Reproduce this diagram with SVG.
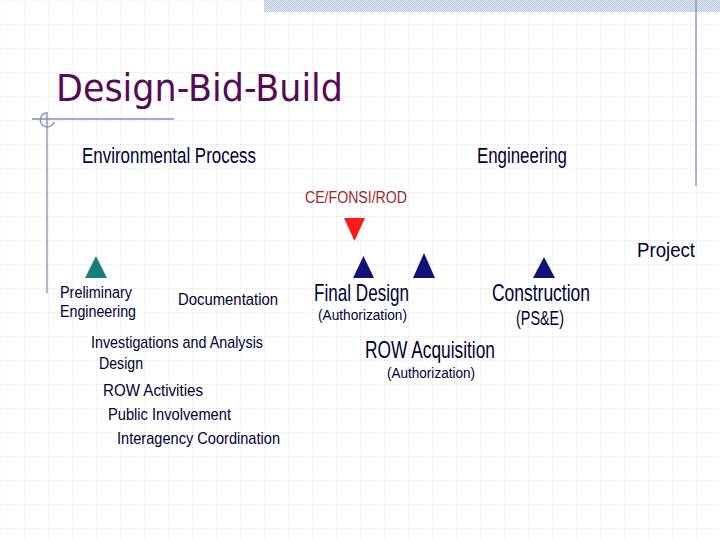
<svg xmlns="http://www.w3.org/2000/svg" width="720" height="540" viewBox="0 0 720 540">
<defs>
<pattern id="grid" x="0" y="0" width="24" height="24" patternUnits="userSpaceOnUse">
<line x1="0" y1="0" x2="24" y2="0" stroke="#bcc1cf" stroke-width="1" stroke-dasharray="1,2"/>
<line x1="0" y1="0" x2="0" y2="24" stroke="#bcc1cf" stroke-width="1" stroke-dasharray="1,2"/>
</pattern>
<pattern id="check" x="0" y="0" width="2" height="2" patternUnits="userSpaceOnUse">
<rect width="2" height="2" fill="#e4eaf4"/>
<rect width="1" height="1" fill="#b8c6e0"/>
<rect x="1" y="1" width="1" height="1" fill="#b8c6e0"/>
</pattern>
</defs>
<style>
.t{font-family:"Liberation Sans",Arial,sans-serif;fill:#000033;}
.deco{stroke:#7f8fb8;stroke-width:1.3;fill:none;}
.navy{fill:#111177;}
</style>
<rect width="720" height="540" fill="#ffffff"/>
<rect x="0.5" y="0.5" width="720" height="540" fill="url(#grid)"/>
<rect x="264" y="0" width="456" height="12" fill="url(#check)"/>
<line class="deco" x1="696" y1="0" x2="696" y2="186"/>
<line class="deco" x1="32" y1="119" x2="174" y2="119"/>
<line class="deco" x1="47" y1="112" x2="47" y2="293"/>
<path class="deco" d="M47,113 A7,7 0 1 0 54,122"/>
<text x="56" y="101" font-family="Tahoma,'DejaVu Sans',sans-serif" font-size="37" fill="#560a56" textLength="287" lengthAdjust="spacingAndGlyphs">Design-Bid-Build</text>

<g id="environmental-process"><text class="t" x="82" y="163" font-size="22" textLength="174" lengthAdjust="spacingAndGlyphs">Environmental Process</text></g>
<g id="engineering"><text class="t" x="477" y="163" font-size="22" textLength="90" lengthAdjust="spacingAndGlyphs">Engineering</text></g>
<g id="cefonsirod">
<text x="305" y="203" font-family="'Liberation Sans',Arial,sans-serif" font-size="16" fill="#a02828" textLength="102" lengthAdjust="spacingAndGlyphs">CE/FONSI/ROD</text>
<polygon points="344,218 365,218 354.5,241" fill="#ff1a1a"/>
</g>
<g id="project"><text class="t" x="637" y="257" font-size="20" textLength="58" lengthAdjust="spacingAndGlyphs">Project</text></g>

<g id="preliminary-engineering">
<polygon points="96,256 107,278 85,278" fill="#1a7f78"/>
<text class="t" x="60" y="298" font-size="16" textLength="72" lengthAdjust="spacingAndGlyphs">Preliminary</text>
<text class="t" x="60" y="317" font-size="16" textLength="76" lengthAdjust="spacingAndGlyphs">Engineering</text>
</g>
<g id="documentation"><text class="t" x="178" y="305" font-size="16" textLength="100" lengthAdjust="spacingAndGlyphs">Documentation</text></g>

<g id="final-design">
<polygon class="navy" points="363.5,256 374,278 353,278"/>
<text class="t" x="314" y="301" font-size="24" textLength="95" lengthAdjust="spacingAndGlyphs">Final Design</text>
<text class="t" x="318" y="320" font-size="14" textLength="89" lengthAdjust="spacingAndGlyphs">(Authorization)</text>
</g>
<g id="row-acquisition">
<polygon class="navy" points="424,253 435,278 413,278"/>
<text class="t" x="365" y="358" font-size="24" textLength="130" lengthAdjust="spacingAndGlyphs">ROW Acquisition</text>
<text class="t" x="387" y="378" font-size="14" textLength="88" lengthAdjust="spacingAndGlyphs">(Authorization)</text>
</g>
<g id="construction">
<polygon class="navy" points="544,257 555,278 533,278"/>
<text class="t" x="492" y="301" font-size="24" textLength="98" lengthAdjust="spacingAndGlyphs">Construction</text>
<text class="t" x="516" y="325" font-size="21" textLength="48" lengthAdjust="spacingAndGlyphs">(PS&amp;E)</text>
</g>

<g id="activities">
<text class="t" x="91" y="348" font-size="17" textLength="172" lengthAdjust="spacingAndGlyphs">Investigations and Analysis</text>
<text class="t" x="99" y="369" font-size="17" textLength="44" lengthAdjust="spacingAndGlyphs">Design</text>
<text class="t" x="103" y="396" font-size="17" textLength="100" lengthAdjust="spacingAndGlyphs">ROW Activities</text>
<text class="t" x="108" y="420" font-size="17" textLength="123" lengthAdjust="spacingAndGlyphs">Public Involvement</text>
<text class="t" x="117" y="444" font-size="17" textLength="163" lengthAdjust="spacingAndGlyphs">Interagency Coordination</text>
</g>
<g id="connectors"></g>
</svg>
